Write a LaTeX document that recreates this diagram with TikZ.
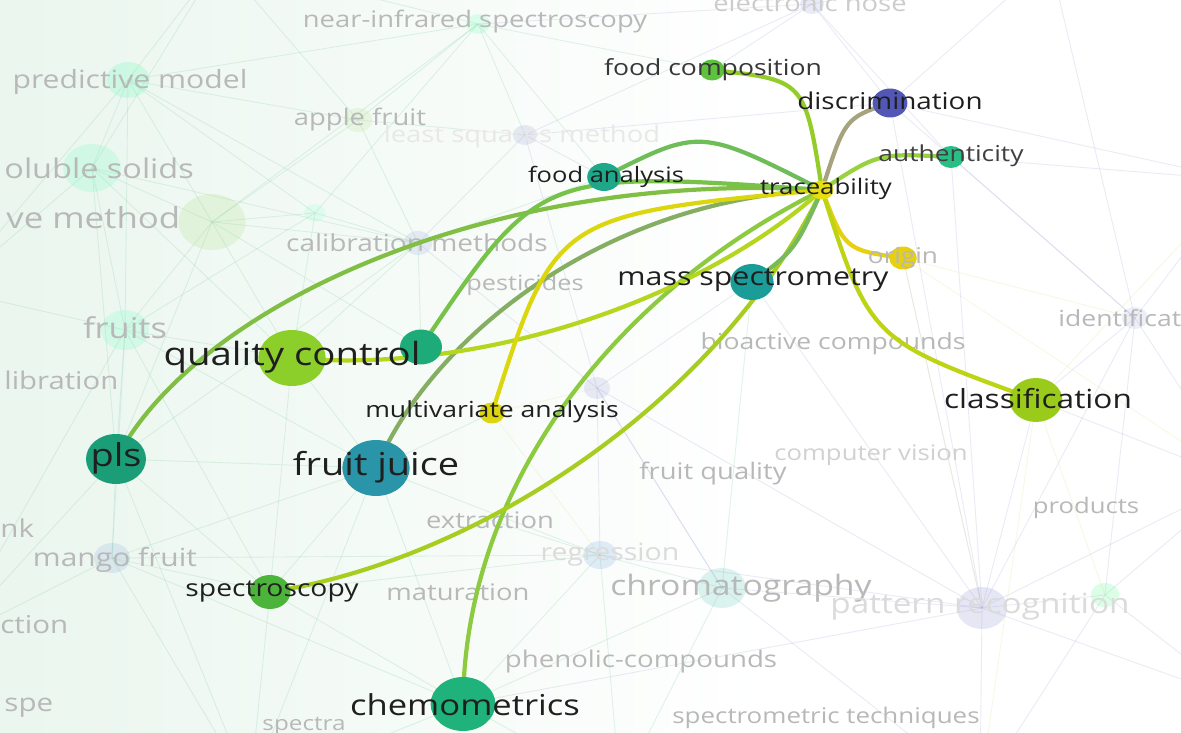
\documentclass[tikz,border=0pt]{standalone}
\usepackage{fontspec}
\setmainfont{Open Sans}
\definecolor{cYel}{HTML}{E6DE10}
\definecolor{cOri}{HTML}{E6D00F}
\definecolor{cMva}{HTML}{DCD60E}
\definecolor{cQC}{HTML}{8CCF2A}
\definecolor{cCls}{HTML}{9BCB1A}
\definecolor{cFC}{HTML}{5EC23C}
\definecolor{cSpec}{HTML}{4CB43A}
\definecolor{cAuth}{HTML}{28BE86}
\definecolor{cChem}{HTML}{1FB27A}
\definecolor{cKw}{HTML}{1DAB78}
\definecolor{cPls}{HTML}{1B9E78}
\definecolor{cFA}{HTML}{1FA78A}
\definecolor{cMS}{HTML}{1A9C98}
\definecolor{cFJ}{HTML}{2A95A8}
\definecolor{cDisc}{HTML}{5257B5}
\definecolor{webG}{HTML}{9ED6B4}
\definecolor{webP}{HTML}{B8BCE0}
\definecolor{webY}{HTML}{E8E6A8}
\definecolor{wash}{HTML}{EAF6EE}
\begin{document}
\begin{tikzpicture}[x=0.02cm,y=-0.02cm,
    lab/.style={font=\fontsize{#1}{#1}\selectfont,text=black!88,inner sep=0pt,xscale=1.2,transform shape},
    dim/.style={lab=#1,text=black!28},
    kw/.style n args={2}{circle,fill=#1,minimum size=#2*0.4mm,inner sep=0pt,xscale=1.2,transform shape},
    ghost/.style n args={2}{kw={#1}{#2},opacity=0.2},
    link/.style={draw=#1,line width=2.4pt,line cap=round},
    web/.style={draw=#1,line width=0.5pt,opacity=0.3}]
  \clip (0,0) rectangle (1181,733);
  \fill[white] (0,0) rectangle (1181,733);
  \shade[left color=wash,right color=white] (0,0) rectangle (760,733);

  % dimmed keywords
  \coordinate (nir) at (478,24);
  \coordinate (pred) at (128,80);
  \coordinate (apple) at (358,120);
  \coordinate (lsm) at (525,135);
  \coordinate (sol) at (92,168);
  \coordinate (vmeth) at (212,222);
  \coordinate (sm1) at (315,213);
  \coordinate (calib) at (418,243);
  \coordinate (fruits) at (125,330);
  \coordinate (ident) at (1135,318);
  \coordinate (purp) at (597,388);
  \coordinate (extr) at (490,520);
  \coordinate (regr) at (600,555);
  \coordinate (mango) at (112,558);
  \coordinate (chrom) at (722,588);
  \coordinate (patt) at (982,608);
  \coordinate (grn) at (1105,595);
  \coordinate (elec) at (812,4);
  \coordinate (w1) at (-50,290);
  \coordinate (w2) at (-50,640);
  \coordinate (s1) at (250,790);
  \coordinate (s2) at (620,790);
  \coordinate (s3) at (980,790);
  \coordinate (e1) at (1240,180);
  \coordinate (e2) at (1240,480);
  \coordinate (e3) at (1240,700);
  \coordinate (n1) at (220,-40);
  \coordinate (n2) at (1050,-40);

  % highlighted keywords
  \coordinate (trace) at (822,190);
  \coordinate (disc) at (890,103);
  \coordinate (fcomp) at (712,70);
  \coordinate (auth) at (951,157);
  \coordinate (fanal) at (604,177);
  \coordinate (origin) at (903,258);
  \coordinate (mspec) at (752,282);
  \coordinate (qctrl) at (292,358);
  \coordinate (kwx) at (421,347);
  \coordinate (classif) at (1036,400);
  \coordinate (mva) at (492,413);
  \coordinate (pls) at (116,459);
  \coordinate (fjuice) at (376,468);
  \coordinate (spec) at (270,592);
  \coordinate (chemo) at (463,704);

  % background web
  \foreach \a/\b in {pred/sol,pred/vmeth,pred/apple,pred/nir,pred/w1,pred/n1,pred/fruits,
      sol/vmeth,sol/fruits,sol/w1,sol/calib,vmeth/apple,vmeth/fruits,vmeth/calib,vmeth/qctrl,
      vmeth/nir,vmeth/sm1,sm1/nir,sm1/fruits,apple/nir,apple/calib,apple/lsm,nir/fanal,nir/n1,
      nir/fcomp,fruits/mango,fruits/pls,fruits/w1,fruits/qctrl,fruits/w2,mango/pls,mango/spec,
      mango/w2,mango/s1,mango/fjuice,pls/w2,pls/s1,pls/calib,pls/sol,qctrl/calib,qctrl/fjuice,
      fjuice/regr,fjuice/spec,fjuice/s1,fjuice/chemo,spec/s1,spec/regr,chemo/s2,chemo/regr,
      chemo/chrom,regr/chrom,regr/s2,chrom/s2,chrom/mspec,sm1/calib,pred/calib,sol/qctrl,
      fruits/spec,mango/regr,pls/fjuice,chemo/s1,kwx/calib,kwx/vmeth,fanal/calib,
      sol/n1,pred/sm1,apple/n1,nir/lsm,vmeth/pls,sm1/qctrl,fruits/fjuice,mango/chemo,
      spec/chemo,pls/spec,qctrl/spec,fjuice/mva,extr/regr}
    \draw[web=webG] (\a) -- (\b);
  \foreach \a/\b in {elec/disc,elec/n2,elec/lsm,elec/auth,disc/n2,disc/e1,disc/patt,disc/ident,
      auth/ident,auth/e1,ident/e1,ident/e2,ident/patt,ident/classif,patt/e2,patt/e3,patt/s3,
      patt/grn,patt/regr,patt/purp,purp/regr,purp/calib,purp/lsm,purp/mspec,lsm/calib,lsm/fanal,
      grn/e2,grn/e3,grn/s3,classif/e2,classif/patt,chrom/s3,chrom/patt,patt/mspec,
      elec/nir,disc/lsm,patt/chemo,ident/n2,chrom/purp,elec/fcomp,auth/patt,grn/ident,
      patt/origin,purp/chrom}
    \draw[web=webP] (\a) -- (\b);
  \foreach \a/\b in {classif/e1,origin/ident,mva/purp,classif/grn,origin/patt,classif/s3,
      mva/regr,origin/e2}
    \draw[web=webY] (\a) -- (\b);

  \node[ghost={green!50!cyan!60}{10}] (nir-c) at (nir) {};
  \node[ghost={green!45!cyan!70}{18}] (pred-c) at (pred) {};
  \node[ghost={yellow!40!green!50}{12}] (apple-c) at (apple) {};
  \node[ghost={cDisc!60}{10}] (lsm-c) at (lsm) {};
  \node[ghost={green!45!cyan!60}{24}] (sol-c) at (sol) {};
  \node[ghost={yellow!40!green!55}{28}] (vmeth-c) at (vmeth) {};
  \node[ghost={green!40!cyan!45}{9}] (sm1-c) at (sm1) {};
  \node[ghost={cyan!30!blue!40}{12}] (calib-c) at (calib) {};
  \node[ghost={green!40!cyan!60}{20}] (fruits-c) at (fruits) {};
  \node[ghost={cDisc!50}{11}] (ident-c) at (ident) {};
  \node[ghost={cDisc!60}{11}] (purp-c) at (purp) {};
  \node[ghost={cyan!60!blue!60}{14}] (regr-c) at (regr) {};
  \node[ghost={cyan!50!blue!50}{15}] (mango-c) at (mango) {};
  \node[ghost={cyan!50!green!70}{20}] (chrom-c) at (chrom) {};
  \node[ghost={cDisc!70}{21}] (patt-c) at (patt) {};
  \node[ghost={green!70!cyan!70}{12}] (grn-c) at (grn) {};
  \node[ghost={cDisc!60}{10}] (elec-c) at (elec) {};

  \node[dim=13] (nir-l) at (475,22) {near-infrared spectroscopy};
  \node[dim=14.3] (pred-l) at (130,82) {predictive model};
  \node[dim=13] (apple-l) at (360,120) {apple fruit};
  \node[lab=13,text=black!9] (lsm-l) at (522,137) {least squares method};
  \node[dim=15.4,anchor=west] (sol-l) at (4,168) {oluble solids};
  \node[dim=16.5,anchor=west] (vmeth-l) at (6,218) {ve method};
  \node[dim=13.3] (calib-l) at (417,243) {calibration methods};
  \node[dim=12] (pest-l) at (525,285) {pesticides};
  \node[dim=16.3] (fruits-l) at (125,328) {fruits};
  \node[dim=13.9,anchor=west] (libr-l) at (4,380) {libration};
  \node[dim=12.6,anchor=west] (ident-l) at (1058,318) {identificat};
  \node[dim=12.6] (bio-l) at (833,344) {bioactive compounds};
  \node[lab=12.2,text=black!18] (cv-l) at (871,455) {computer vision};
  \node[dim=13] (fq-l) at (713,474) {fruit quality};
  \node[dim=12.2] (prod-l) at (1086,508) {products};
  \node[dim=13] (extr-l) at (extr) {extraction};
  \node[dim=14,anchor=west] (nk-l) at (0,528) {nk};
  \node[dim=14.2] (mango-l) at (115,560) {mango fruit};
  \node[lab=13.5,text=black!14] (regr-l) at (610,555) {regression};
  \node[dim=13] (mat-l) at (458,592) {maturation};
  \node[dim=16] (chrom-l) at (741,588) {chromatography};
  \node[lab=15.8,text=black!14] (patt-l) at (980,607) {pattern recognition};
  \node[dim=14,anchor=west] (ction-l) at (0,625) {ction};
  \node[dim=13.1] (phen-l) at (641,662) {phenolic-compounds};
  \node[dim=14,anchor=west] (spe-l) at (4,708) {spe};
  \node[dim=11.5] (spectra-l) at (304,726) {spectra};
  \node[dim=12.3] (smt-l) at (826,718) {spectrometric techniques};
  \node[lab=13,text=black!20] (elec-l) at (810,3) {electronic nose};

  % links of traceability
  \draw[link=cFC!60!cYel] (fcomp) .. controls (805,80) .. (trace);
  \draw[link=gray!70!olive!80] (disc) .. controls (845,118) .. (trace);
  \draw[link=cAuth!40!cYel] (auth) .. controls (878,153) .. (trace);
  \draw[link=cFA!60!cYel] (fanal) .. controls (700,128) .. (trace);
  \draw[link=cPls!50!cYel] (pls) .. controls (200,300) and (500,170) .. (trace);
  \draw[link=cFJ!50!cYel!80!gray] (fjuice) .. controls (430,340) and (600,200) .. (trace);
  \draw[link=cKw!55!cYel] (kwx) .. controls (540,170) .. (trace);
  \draw[link=cChem!45!cYel] (chemo) .. controls (465,480) and (620,290) .. (trace);
  \draw[link=cQC!55!cYel] (qctrl) .. controls (480,375) and (700,300) .. (trace);
  \draw[link=cSpec!40!cYel] (spec) .. controls (480,560) and (720,400) .. (trace);
  \draw[link=cMva] (mva) .. controls (555,215) .. (trace);
  \draw[link=cMS!55!cYel] (mspec) .. controls (795,250) .. (trace);
  \draw[link=cOri] (origin) .. controls (845,250) .. (trace);
  \draw[link=cCls!55!cYel] (classif) .. controls (870,340) .. (trace);

  \node[kw={cYel}{9.5}] (trace-c) at (trace) {};
  \node[kw={cDisc}{14.5}] (disc-c) at (disc) {};
  \node[kw={cFC}{10.5}] (fcomp-c) at (fcomp) {};
  \node[kw={cAuth}{11}] (auth-c) at (auth) {};
  \node[kw={cFA}{14}] (fanal-c) at (fanal) {};
  \node[kw={cOri}{11.5}] (origin-c) at (origin) {};
  \node[kw={cMS}{18}] (mspec-c) at (mspec) {};
  \node[kw={cQC}{28}] (qctrl-c) at (qctrl) {};
  \node[kw={cKw}{17.5}] (kwx-c) at (kwx) {};
  \node[kw={cCls}{22}] (classif-c) at (classif) {};
  \node[kw={cMva}{10.5}] (mva-c) at (mva) {};
  \node[kw={cPls}{25}] (pls-c) at (pls) {};
  \node[kw={cFJ}{28}] (fjuice-c) at (fjuice) {};
  \node[kw={cSpec}{17}] (spec-c) at (spec) {};
  \node[kw={cChem}{27}] (chemo-c) at (chemo) {};

  \node[lab=12.2] (trace-l) at (826,189) {traceability};
  \node[lab=13.2] (disc-l) at (890,101) {discrimination};
  \node[lab=12.6,text=black!78] (fcomp-l) at (713,70) {food composition};
  \node[lab=12.5,text=black!75] (auth-l) at (951,156) {authenticity};
  \node[lab=12.1] (fanal-l) at (606,177) {food analysis};
  \node[dim=12.4] (origin-l) at (903,258) {origin};
  \node[lab=14.4] (mspec-l) at (753,280) {mass spectrometry};
  \node[lab=18.2] (qctrl-l) at (292,357) {quality control};
  \node[lab=15] (classif-l) at (1038,399) {classification};
  \node[lab=12.6] (mva-l) at (492,412) {multivariate analysis};
  \node[lab=18] (pls-l) at (116,458) {pls};
  \node[lab=18] (fjuice-l) at (376,467) {fruit juice};
  \node[lab=13.4] (spec-l) at (272,592) {spectroscopy};
  \node[lab=16.4] (chemo-l) at (465,705) {chemometrics};
\end{tikzpicture}
\end{document}
